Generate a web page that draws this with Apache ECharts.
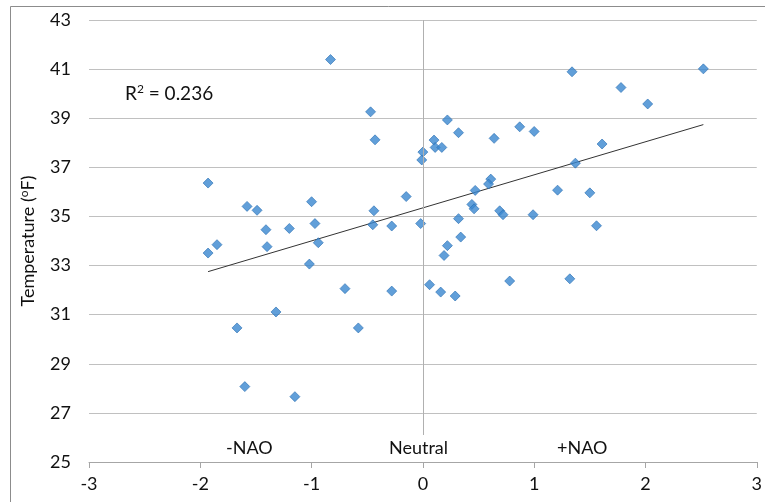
<!DOCTYPE html>
<html>
<head>
<meta charset="utf-8">
<script src="https://cdn.jsdelivr.net/npm/echarts@6/dist/echarts.min.js"></script>
<style>
  html, body { margin: 0; padding: 0; background: #fff; }
  #main { width: 765px; height: 502px; }
</style>
</head>
<body>
<div id="main"></div>
<script>
// NAO index (x) and winter temperature (y)
const nao = [
  -1.93, -1.85, -1.93, -1.58, -1.49, -1.67, -1.60, -1.41, -1.20, -1.40,
  -0.94, -1.02, -0.70, -1.32, -1.15, -0.83, -1.00, -0.97, -0.47, -0.43,
  -0.44, -0.45, -0.28, -0.15, -0.02, 0.00, -0.01, 0.22, 0.10, 0.11,
  0.17, 0.32, 0.64, 0.61, 0.59, 0.47, 0.44, 0.46, 0.69, 0.72,
  0.32, 0.34, 0.22, -0.28, 0.06, 0.16, 0.29, 0.19, -0.58, 0.78,
  1.34, 1.78, 2.02, 0.87, 1.00, 1.61, 1.37, 1.21, 1.50, 0.99,
  1.56, 1.32, 2.52
]
const temps = [
  36.36, 33.85, 33.51, 35.41, 35.25, 30.46, 28.07, 34.46, 34.51, 33.77,
  33.93, 33.06, 32.06, 31.11, 27.66, 41.39, 35.60, 34.71, 39.26, 38.12,
  35.23, 34.66, 34.61, 35.81, 34.71, 37.62, 37.30, 38.93, 38.11, 37.81,
  37.81, 38.41, 38.18, 36.52, 36.32, 36.06, 35.49, 35.31, 35.23, 35.07,
  34.91, 34.16, 33.81, 31.96, 32.22, 31.92, 31.76, 33.41, 30.46, 32.37,
  40.89, 40.25, 39.58, 38.65, 38.46, 37.95, 37.17, 36.07, 35.96, 35.07,
  34.62, 32.46, 41.01
]
const phaseLabels = ['-NAO', 'Neutral', '+NAO']
const r2Text = 'R{sup|2} = 0.236'
const font = 'Lato, "Open Sans", sans-serif'

// 散点数据
let points = []
for (let i = 0; i < nao.length; i++) {
    points.push([nao[i], temps[i]])
}

// 线性趋势线（最小二乘）
function trend(xs, ys) {
    let n = xs.length, sx = 0, sy = 0, sxy = 0, sxx = 0
    for (let i = 0; i < n; i++) {
        sx += xs[i]; sy += ys[i]; sxy += xs[i] * ys[i]; sxx += xs[i] * xs[i]
    }
    const k = (n * sxy - sx * sy) / (n * sxx - sx * sx)
    const b = (sy - k * sx) / n
    const x0 = Math.min(...xs), x1 = Math.max(...xs)
    return [[x0, k * x0 + b], [x1, k * x1 + b]]
}

const option = {
    animation: false,
    backgroundColor: '#fff',
    grid: {left: 89, right: 8, top: 20, bottom: 40},
    xAxis: {
        type: 'value', min: -3, max: 3, interval: 1,
        axisLine: {onZero: false, lineStyle: {color: '#a6a6a6'}},
        axisTick: {show: true, length: 6, lineStyle: {color: '#a6a6a6'}},
        axisLabel: {color: '#111', fontSize: 18, fontFamily: font, margin: 13},
        splitLine: {show: false}
    },
    yAxis: {
        type: 'value', min: 25, max: 43, interval: 2,
        name: 'Temperature (' + '{sup|o}' + 'F)',
        nameLocation: 'middle', nameGap: 50,
        nameTextStyle: {
            color: '#111', fontSize: 18, fontFamily: font,
            rich: {sup: {fontSize: 12, verticalAlign: 'top', padding: [0, 0, 9, 0], color: '#111', fontFamily: font}}
        },
        axisLine: {show: false},
        axisTick: {show: false},
        axisLabel: {color: '#111', fontSize: 18, fontFamily: font, margin: 18},
        splitLine: {lineStyle: {color: '#c0c0c0', width: 1}}
    },
    series: [
        {
            type: 'line',
            data: trend(nao, temps),
            symbol: 'none',
            lineStyle: {color: '#333', width: 1},
            z: 3,
            markLine: {
                silent: true, symbol: 'none', label: {show: false},
                lineStyle: {color: '#b0b0b0', type: 'solid', width: 1},
                data: [[{coord: [0, 43]}, {coord: [0, 26.1]}]]
            }
        },
        {
            type: 'scatter',
            data: points,
            symbol: 'diamond',
            symbolSize: [10, 10],
            itemStyle: {color: '#3a87d0', borderColor: '#2b6fb4', borderWidth: 0.8},
            z: 4
        }
    ],
    graphic: [
        {type: 'rect', left: 8, top: 4, shape: {width: 800, height: 600}, style: {fill: 'none', stroke: '#8c8c8c', lineWidth: 1}, silent: true, z: 0},
        {type: 'text', left: 125, top: 83, style: {text: r2Text, fill: '#111', font: '19px ' + font,
            rich: {sup: {fontSize: 12, verticalAlign: 'top', padding: [0, 0, 9, 0], fill: '#111', fontFamily: font}}}},
        {type: 'text', left: 226, top: 439, style: {text: phaseLabels[0], fill: '#111', font: '18px ' + font}},
        {type: 'text', left: 389, top: 439, style: {text: phaseLabels[1], fill: '#111', font: '18px ' + font}},
        {type: 'text', left: 557, top: 439, style: {text: phaseLabels[2], fill: '#111', font: '18px ' + font}}
    ]
}

let chart = echarts.init(document.getElementById('main'))
chart.setOption(option)
</script>
</body>
</html>
